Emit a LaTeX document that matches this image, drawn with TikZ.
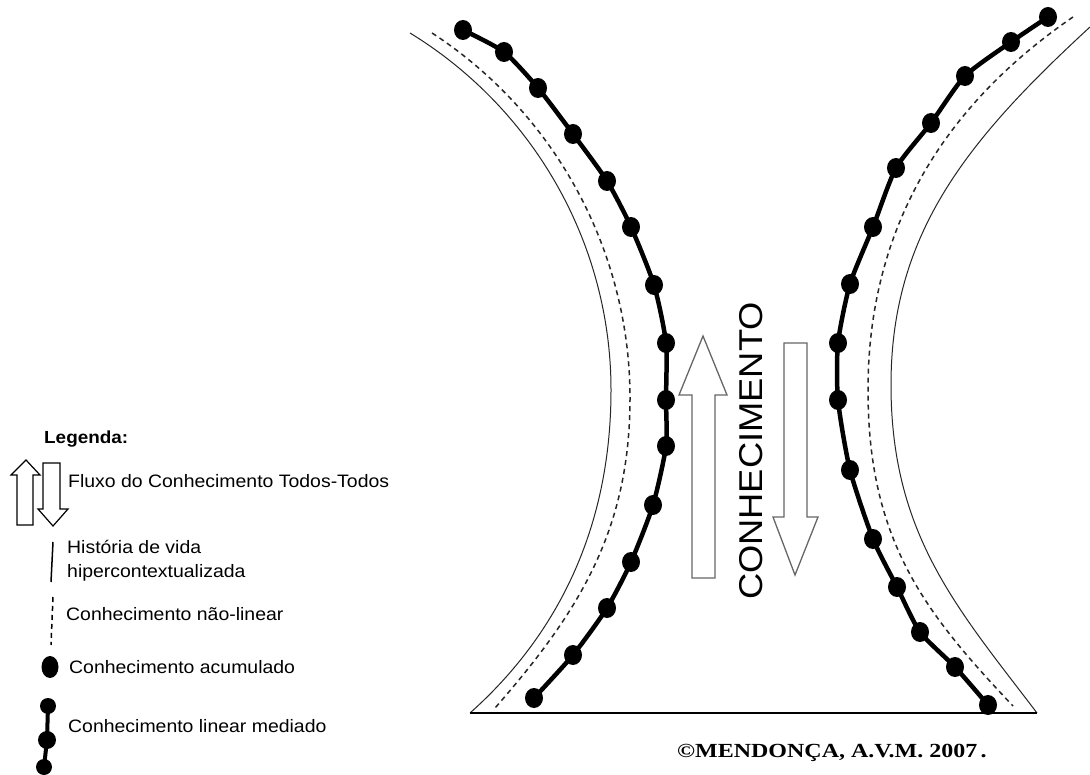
\documentclass[tikz,border=0pt]{standalone}
\usepackage{fontspec}
\usetikzlibrary{shapes.geometric}
\newfontfamily\arialx[FakeStretch=1.08]{Liberation Sans}
\newfontfamily\arialc[FakeStretch=1.1]{Liberation Sans}
\newfontfamily\timesx[FakeStretch=1.2]{Liberation Serif}
\tikzset{
  dot/.style={ellipse, fill=black, draw=none, inner sep=0pt, minimum width=18pt, minimum height=20pt},
  ldot/.style={ellipse, fill=black, draw=none, inner sep=0pt, minimum width=#1, minimum height=#1},
  boldline/.style={line width=4.5pt, line join=round, line cap=round},
  thinline/.style={line width=1pt, black!85},
  dashline/.style={line width=1.5pt, black!85, dash pattern=on 5pt off 4pt},
  bigarrow/.style={draw=black!60, line width=1.3pt, fill=white, line join=miter},
  legarrow/.style={draw=black, line width=1.2pt, fill=white, line join=miter},
  legtext/.style={anchor=base west, inner sep=0pt, font=\arialx\fontsize{18}{21}\selectfont},
}
\begin{document}
\begin{tikzpicture}[x=1pt,y=-1pt]
\useasboundingbox (0,0) rectangle (1090,775);
\fill[white] (0,0) rectangle (1090,775);

% ---- left side curves
\draw[thinline] (410,33) .. controls (534,109) and (611,244) .. (611,390)
                         .. controls (611,535) and (552,640) .. (470,713);
\draw[dashline] (432,33) .. controls (555,113) and (630,251) .. (630,398)
                         .. controls (630,528) and (581,610) .. (495,708);
\foreach \i/\x/\y in {1/463/30,2/504/52,3/538/88,4/573/134,5/607/181,6/631/227,7/654/285,8/666/343,9/666/400,10/666/446,11/653/505,12/631/562,13/607/608,14/573/655,15/534/698}{
  \node[dot] (L\i) at (\x,\y) {};
}
\draw[boldline] plot[smooth, tension=0.4] coordinates {(L1.center) (L2.center) (L3.center) (L4.center) (L5.center) (L6.center) (L7.center) (L8.center) (L9.center) (L10.center) (L11.center) (L12.center) (L13.center) (L14.center) (L15.center)};

% ---- right side curves
\draw[thinline] (1090,27) .. controls (965,142) and (891,235) .. (891,385)
                          .. controls (891,535) and (958,609) .. (1037,713);
\draw[dashline] (1073,17) .. controls (933,113) and (868,240) .. (868,390)
                          .. controls (868,540) and (924,612) .. (1013,706);
\foreach \i/\x/\y in {1/1048/17,2/1011/42,3/965/76,4/931/123,5/896/168,6/873/227,7/850/284,8/838/343,9/838/400,10/850/470,11/873/539,12/897/587,13/920/632,14/955/667,15/988/705}{
  \node[dot] (R\i) at (\x,\y) {};
}
\draw[boldline] plot[smooth, tension=0.4] coordinates {(R1.center) (R2.center) (R3.center) (R4.center) (R5.center) (R6.center) (R7.center) (R8.center) (R9.center) (R10.center) (R11.center) (R12.center) (R13.center) (R14.center) (R15.center)};

% ---- base line
\coordinate (bl) at (470,713);
\coordinate (br) at (1037,713);
\draw[line width=1.3pt] (bl) -- (br);

% ---- central arrows and text
\draw[bigarrow] (692,578) -- (692,395) -- (679,395) -- (703,336) -- (727,395) -- (715,395) -- (715,578) -- cycle;
\draw[bigarrow] (784,343) -- (807,343) -- (807,517) -- (818,517) -- (795,575) -- (773,517) -- (784,517) -- cycle;
\node[rotate=90, inner sep=0pt, font=\arialc\fontsize{33}{36}\selectfont] (conh) at (751,451) {CONHECIMENTO};

% ---- legend
\node[legtext, font=\arialx\bfseries\fontsize{17.5}{21}\selectfont] (legtitle) at (44,443) {Legenda:};
\draw[legarrow] (17,525) -- (17,475) -- (11,475) -- (26,460) -- (40,475) -- (33,475) -- (33,525) -- cycle;
\draw[legarrow] (43,463) -- (60,463) -- (60,509) -- (68,509) -- (53,526) -- (38,509) -- (43,509) -- cycle;
\node[legtext] (t1) at (68,487) {Fluxo do Conhecimento Todos-Todos};

\coordinate (hl1) at (53,542);
\coordinate (hl2) at (51,582);
\draw[line width=1.5pt] (hl1) -- (hl2);
\node[legtext] (t2) at (67,553) {História de vida};
\node[legtext] (t2b) at (67,577) {hipercontextualizada};

\coordinate (dl1) at (53,597);
\coordinate (dl2) at (51,645);
\draw[line width=1.5pt, dash pattern=on 5pt off 4pt] (dl1) -- (dl2);
\node[legtext] (t3) at (66,620) {Conhecimento não-linear};

\node[ellipse, fill=black, inner sep=0pt, minimum width=17pt, minimum height=22pt] (ld) at (50,667) {};
\node[legtext] (t4) at (69,673) {Conhecimento acumulado};

\node[ldot=16pt] (m1) at (48,706) {};
\node[ldot=18pt] (m2) at (47,740) {};
\node[ldot=16pt] (m3) at (44,767) {};
\draw[line width=4pt] (m1.center) -- (m2.center) -- (m3.center);
\node[legtext] (t5) at (68,732) {Conhecimento linear mediado};

% ---- copyright
\node[anchor=base west, inner sep=0pt, font=\timesx\bfseries\fontsize{20}{23}\selectfont] (copy) at (677,757) {©MENDONÇA, A.V.M. 2007\,.};
\end{tikzpicture}
\end{document}
